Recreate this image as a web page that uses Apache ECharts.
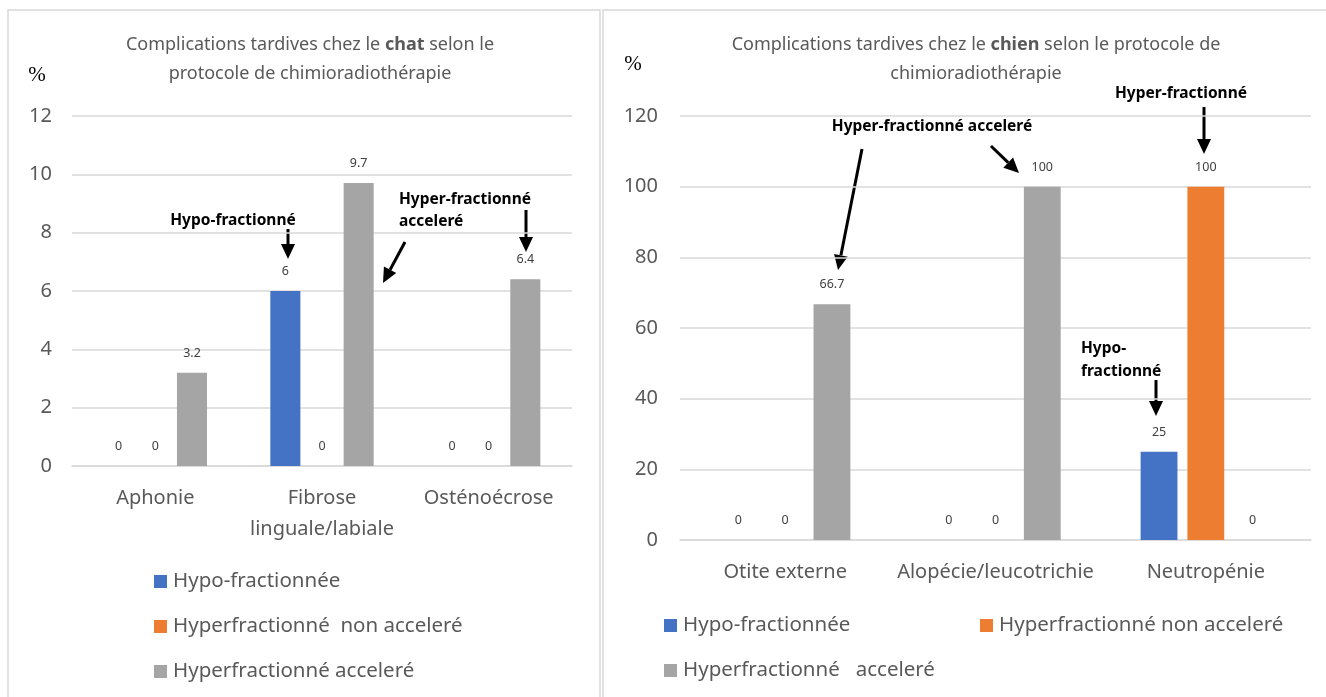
<!DOCTYPE html>
<html><head><meta charset="utf-8">
<script src="https://cdn.jsdelivr.net/npm/echarts@6/dist/echarts.min.js"></script>
<style>html,body{margin:0;padding:0;background:#fff}#c{width:1326px;height:697px}</style>
</head><body><div id="c"></div>
<script>
// ---- data ----
const catCategories = ['Aphonie', 'Fibrose\nlinguale/labiale', 'Osténoécrose'];
const catHypo = [0, 6, 0];
const catHyperNonAcc = [0, 0, 0];
const catHyperAcc = [3.2, 9.7, 6.4];
const dogCategories = ['Otite externe', 'Alopécie/leucotrichie', 'Neutropénie'];
const dogHypo = [0, 0, 25];
const dogHyperNonAcc = [0, 0, 100];
const dogHyperAcc = [66.7, 100, 0];
const catAxis = { min: 0, max: 12, interval: 2 };
const dogAxis = { min: 0, max: 120, interval: 20 };
const namesCat = ['Hypo-fractionnée', 'Hyperfractionné  non acceleré', 'Hyperfractionné acceleré'];
const namesDog = ['Hypo-fractionnée', 'Hyperfractionné non acceleré', 'Hyperfractionné   acceleré'];

const FONT = '"Noto Sans", "Open Sans", sans-serif';
const COLORS = ['#4472C4', '#ED7D31', '#A5A5A5'];
const GREY = '#595959';

function arrow(x1, y1, x2, y2) {
  const dx = x2 - x1, dy = y2 - y1, L = Math.hypot(dx, dy);
  const ux = dx / L, uy = dy / L, hl = 15, hw = 7;
  const bx = x2 - ux * hl, by = y2 - uy * hl;
  return [
    { type: 'line', shape: { x1, y1, x2: bx, y2: by }, style: { stroke: '#000', lineWidth: 3 } },
    { type: 'polygon', shape: { points: [[x2, y2], [bx - uy * hw, by + ux * hw], [bx + uy * hw, by - ux * hw]] }, style: { fill: '#000' } }
  ];
}
function note(x, y, text, align) {
  return { type: 'text', x, y, style: { text, font: 'bold 15.5px ' + FONT, fill: '#000', textAlign: align || 'left', textVerticalAlign: 'middle' } };
}

const labelCfg = { show: true, position: 'top', distance: 13, color: '#404040', fontSize: 12.5, fontFamily: FONT };
function mkSeries(names, arrays, idx) {
  return arrays.map((d, i) => ({
    type: 'bar', name: names[i], data: d, xAxisIndex: idx, yAxisIndex: idx,
    itemStyle: { color: COLORS[i] }, label: labelCfg,
    barGap: idx === 0 ? '22%' : '27%', barCategoryGap: '38%'
  }));
}
function legend(name, left, top) {
  return { data: [name], left, top, padding: 0, itemWidth: 13, itemHeight: 13, itemGap: 0, icon: 'rect',
    textStyle: { fontSize: 20.5, color: GREY, fontFamily: FONT, padding: [0, 0, 0, 1] }, selectedMode: false };
}

const chart = echarts.init(document.getElementById('c'), null, { renderer: 'canvas' });
const titleRich = { b: { fontWeight: 'bold', fontSize: 18, color: GREY, fontFamily: FONT } };
chart.setOption({
  animation: false,
  backgroundColor: '#fff',
  title: [
    { text: 'Complications tardives chez le {b|chat} selon le\nprotocole de chimioradiothérapie', left: 305, top: 25, textAlign: 'center',
      textStyle: { fontSize: 18, fontWeight: 'normal', color: GREY, fontFamily: FONT, lineHeight: 29, rich: titleRich } },
    { text: 'Complications tardives chez le {b|chien} selon le protocole de\nchimioradiothérapie', left: 971, top: 25, textAlign: 'center',
      textStyle: { fontSize: 18, fontWeight: 'normal', color: GREY, fontFamily: FONT, lineHeight: 29, rich: titleRich } }
  ],
  grid: [
    { left: 72, right: 1326 - 572, top: 116, bottom: 697 - 466 },
    { left: 680, right: 1326 - 1311, top: 116, bottom: 697 - 540 }
  ],
  xAxis: [
    { type: 'category', gridIndex: 0, data: catCategories, axisTick: { show: false },
      axisLine: { lineStyle: { color: '#d9d9d9', width: 1.5 } },
      axisLabel: { fontSize: 20, color: GREY, fontFamily: FONT, margin: 17, lineHeight: 31, interval: 0 } },
    { type: 'category', gridIndex: 1, data: dogCategories, axisTick: { show: false },
      axisLine: { lineStyle: { color: '#d9d9d9', width: 1.5 } },
      axisLabel: { fontSize: 20, color: GREY, fontFamily: FONT, margin: 22, interval: 0 } }
  ],
  yAxis: [
    { type: 'value', gridIndex: 0, min: catAxis.min, max: catAxis.max, interval: catAxis.interval,
      axisLine: { show: false }, axisTick: { show: false },
      splitLine: { lineStyle: { color: '#d9d9d9', width: 1.5 } },
      axisLabel: { fontSize: 20, color: GREY, fontFamily: FONT, margin: 20 } },
    { type: 'value', gridIndex: 1, min: dogAxis.min, max: dogAxis.max, interval: dogAxis.interval,
      axisLine: { show: false }, axisTick: { show: false },
      splitLine: { lineStyle: { color: '#d9d9d9', width: 1.5 } },
      axisLabel: { fontSize: 20, color: GREY, fontFamily: FONT, margin: 22 } }
  ],
  legend: [
    legend(namesCat[0], 154, 571), legend(namesCat[1], 154, 616), legend(namesCat[2], 154, 661),
    legend(namesDog[0], 664, 615), legend(namesDog[1], 980, 615), legend(namesDog[2], 664, 660)
  ],
  series: [
    ...mkSeries(namesCat, [catHypo, catHyperNonAcc, catHyperAcc], 0),
    ...mkSeries(namesDog, [dogHypo, dogHyperNonAcc, dogHyperAcc], 1)
  ],
  graphic: [
    { type: 'rect', shape: { x: 8, y: 10, width: 592, height: 700 }, style: { fill: 'none', stroke: '#d9d9d9', lineWidth: 1.5 }, z: -10 },
    { type: 'rect', shape: { x: 603, y: 10, width: 740, height: 700 }, style: { fill: 'none', stroke: '#d9d9d9', lineWidth: 1.5 }, z: -10 },
    { type: 'text', x: 37, y: 75, style: { text: '%', font: '21px "Liberation Serif", serif', fill: '#000', textAlign: 'center', textVerticalAlign: 'middle' } },
    { type: 'text', x: 633, y: 64, style: { text: '%', font: '21px "Liberation Serif", serif', fill: '#000', textAlign: 'center', textVerticalAlign: 'middle' } },
    note(233, 221, 'Hypo-fractionné', 'center'),
    ...arrow(288, 229, 288, 259),
    note(399, 200, 'Hyper-fractionné'),
    note(399, 222, 'acceleré'),
    ...arrow(405, 242, 383, 283),
    ...arrow(526, 210, 526, 252),
    note(932, 127, 'Hyper-fractionné acceleré', 'center'),
    ...arrow(862, 149, 838, 270),
    ...arrow(991, 146, 1019, 173),
    note(1181, 94, 'Hyper-fractionné', 'center'),
    ...arrow(1204, 107, 1204, 154),
    note(1081, 349, 'Hypo-'),
    note(1081, 372, 'fractionné'),
    ...arrow(1156, 380, 1156, 416)
  ]
});
</script></body></html>
